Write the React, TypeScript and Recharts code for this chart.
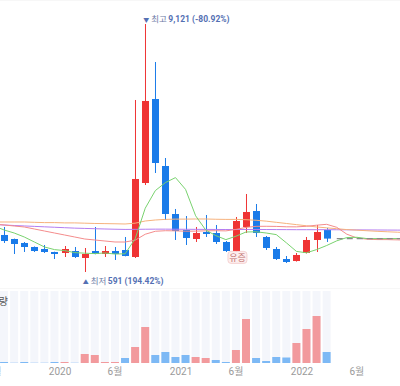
import React from 'react';
import { ComposedChart, Bar, Line, XAxis, YAxis, CartesianGrid, ReferenceDot, Cell } from 'recharts';

// Monthly categories (first and last are partly outside the visible window)
const months = [
  '2019-06', '2019-07', '2019-08', '2019-09', '2019-10', '2019-11', '2019-12',
  '2020-01', '2020-02', '2020-03', '2020-04', '2020-05', '2020-06', '2020-07', '2020-08', '2020-09', '2020-10', '2020-11', '2020-12',
  '2021-01', '2021-02', '2021-03', '2021-04', '2021-05', '2021-06', '2021-07', '2021-08', '2021-09', '2021-10', '2021-11', '2021-12',
  '2022-01', '2022-02', '2022-03', '2022-04', '2022-05', '2022-06', '2022-07', '2022-08', '2022-09', '2022-10', '2022-11',
];

const N8 = [null, null, null, null, null, null, null, null];

const opens: (number | null)[] = [null,
  1864, 1726, 1589, 1451, 1382, 1279, 1245, 1313, 1073, 1313, 1210, 1313, 1348, 1107, 3652, 6541, 4237,
  2586, 2036, 1726, 1967, 1932, 1623, 1313, 2139, 2689, 1795, 1382, 1038, 969, 1245, 1692, 2036, ...N8];
const highs: (number | null)[] = [null,
  2139, 1740, 1623, 1470, 1520, 1290, 1485, 1451, 1417, 2139, 1485, 1451, 1795, 6507, 9121, 7814, 4512,
  2758, 2517, 2139, 2552, 2208, 1657, 2483, 3274, 2930, 1829, 1451, 1141, 1245, 1795, 2208, 2104, ...N8];
const lows: (number | null)[] = [null,
  1589, 1210, 1279, 1279, 1245, 1038, 1107, 1073, 591, 1200, 1107, 1004, 1130, 1073, 3583, 3996, 2380,
  1692, 1520, 1623, 1795, 1554, 1279, 1300, 1932, 1795, 1348, 1004, 901, 950, 1230, 1279, 1623, ...N8];
const closes: (number | null)[] = [null,
  1657, 1554, 1451, 1313, 1279, 1210, 1382, 1107, 1210, 1210, 1313, 1210, 1141, 3790, 6473, 4340, 2586,
  2001, 1760, 1932, 1898, 1623, 1313, 2345, 2655, 1932, 1417, 1038, 935, 1176, 1692, 1967, 1740, ...N8];

// Volume (thousand shares) and its colour direction
const volumes = [30,
  100, 30, 100, 30, 30, 100, 100, 30, 900, 800, 100, 100, 500, 1600, 3600, 800, 1100,
  600, 800, 600, 500, 300, 100, 1300, 4400, 500, 200, 600, 550, 2000, 3400, 4700, 1100,
  0, 0, 0, 0, 0, 0, 0, 0];
const volumeUp = [false,
  false, false, false, false, false, false, true, false, true, true, true, true, false, true, true, false, false,
  false, false, true, true, false, false, true, true, false, false, false, false, true, true, true, false,
  false, false, false, false, false, false, false, false];

// Moving averages
const ma5 = [2173,
  2036, 1932, 1795, 1623, 1451, 1361, 1327, 1258, 1238, 1224, 1244, 1210, 1217, 1733, 2785, 3391, 3666,
  3838, 3432, 2524, 2035, 1843, 1705, 1822, 1967, 1974, 1932, 1877, 1595, 1300, 1252, 1362, 1502,
  1663, 1776, 1785, 1740, 1740, 1740, 1740, 1740];
const ma20 = [2242,
  2208, 2173, 2139, 2070, 2001, 1932, 1864, 1795, 1726, 1692, 1657, 1623, 1622, 1686, 1890, 1992, 2011,
  2006, 1994, 1996, 2008, 2011, 2005, 2056, 2125, 2161, 2163, 2159, 2146, 2144, 2163, 2201, 2231,
  2128, 1892, 1762, 1719, 1706, 1705, 1696, 1688];
const ma60 = [2311,
  2311, 2311, 2311, 2300, 2290, 2290, 2280, 2280, 2270, 2260, 2255, 2250, 2242, 2270, 2345, 2380, 2400,
  2410, 2410, 2414, 2414, 2405, 2400, 2400, 2390, 2370, 2340, 2300, 2260, 2220, 2180, 2140, 2110,
  2080, 2050, 2030, 2010, 1990, 1975, 1960, 1945];
const ma120 = [2225,
  2208, 2190, 2175, 2160, 2145, 2130, 2115, 2100, 2090, 2080, 2070, 2062, 2055, 2058, 2062, 2065, 2065,
  2062, 2060, 2058, 2056, 2054, 2052, 2052, 2054, 2054, 2052, 2050, 2048, 2046, 2046, 2046, 2046,
  2044, 2042, 2040, 2038, 2036, 2034, 2032, 2030];
const currentLine = [null,
  null, null, null, null, null, null, null, null, null, null, null, null, null, null, null, null, null,
  null, null, null, null, null, null, null, null, null, null, null, null, null, null, null, null,
  1740, 1740, 1740, 1740, 1740, 1740, 1740, 1740];

const xTickLabels: Record<string, string> = {
  '2019-06': '6월', '2020-01': '2020', '2020-06': '6월', '2021-01': '2021',
  '2021-06': '6월', '2022-01': '2022', '2022-06': '6월',
};
const priceGridLevels = [1038, 2070, 3102, 4134, 5166, 6197, 7229, 8261, 9293];
const priceDomain = [6.3, 9946.5];
const volumeDomain = [0, 7200];

const highMark = { month: '2020-09', price: 9121, title: '최고', value: '9,121', change: '(-80.92%)' };
const lowMark = { month: '2020-03', price: 591, title: '최저', value: '591', change: '(194.42%)' };
const eventMark = { month: '2021-06', price: 1300, text: '유증' };

const rows = months.map((m, i) => ({
  month: m,
  open: opens[i], high: highs[i], low: lows[i], close: closes[i],
  range: opens[i] == null ? null : [lows[i], highs[i]],
  vol: volumes[i], volUp: volumeUp[i],
  ma5: ma5[i], ma20: ma20[i], ma60: ma60[i], ma120: ma120[i], cur: currentLine[i],
}));

const RED = '#ef3434';
const BLUE = '#1a7be9';
const SLOT = 10.08;
const W = SLOT * months.length;
const LEFT = 4.5 - 1.5 * SLOT;
const FONT = 'Roboto, "Noto Sans CJK KR", "DejaVu Sans", sans-serif';

function Candle(props: any) {
  const { x, y, width, height, payload } = props;
  if (!payload || payload.open == null) return null;
  const { open, close, high, low } = payload;
  const top = Math.min(y, y + height);
  const h = Math.abs(height);
  const k = high === low ? 0 : h / (high - low);
  const py = (v: number) => top + (high - v) * k;
  const color = close >= open ? RED : BLUE;
  const cx = x + width / 2;
  const bx = Math.round(cx - 3.5);
  const wx = bx + 3.5;
  const bTop = py(Math.max(open, close));
  const bBot = py(Math.min(open, close));
  return (
    <g>
      <line x1={wx} x2={wx} y1={top} y2={top + h} stroke={color} strokeWidth={1} />
      <rect x={bx} y={bTop} width={7} height={Math.max(1, bBot - bTop)} fill={color} />
    </g>
  );
}

function HighLabel(props: any) {
  const { cx, cy } = props;
  return (
    <text x={cx - 2} y={cy - 2.5} fontSize={8.5} fill="#5470b3" fontFamily={FONT}>
      <tspan fontSize={6}>▼</tspan>
      <tspan dx={2} fill="#6c7ba6">{highMark.title}</tspan>
      <tspan dx={1.5} fontWeight="bold">{highMark.value} {highMark.change}</tspan>
    </text>
  );
}

function LowLabel(props: any) {
  const { cx, cy } = props;
  return (
    <text x={cx - 2} y={cy + 12} fontSize={8.5} fill="#5470b3" fontFamily={FONT}>
      <tspan fontSize={6}>▲</tspan>
      <tspan dx={2} fill="#6c7ba6">{lowMark.title}</tspan>
      <tspan dx={1.5} fontWeight="bold">{lowMark.value} {lowMark.change}</tspan>
    </text>
  );
}

function EventBadge(props: any) {
  const { cx, cy } = props;
  return (
    <g>
      <rect x={cx - 8} y={cy} width={19} height={12} rx={3} fill="#fdeeee" stroke="#f3caca" strokeWidth={0.8} />
      <text x={cx + 1.5} y={cy + 9.5} fontSize={9} textAnchor="middle" fill="#c0706e" fontFamily={FONT}>{eventMark.text}</text>
    </g>
  );
}

function MonthTick(props: any) {
  const { x, y, payload } = props;
  const label = xTickLabels[payload.value] || '';
  const isYear = /^\d{4}$/.test(label);
  return (
    <text x={x + (isYear ? -4.5 : 0)} y={y} dy="0.71em" textAnchor="middle" fontSize={10} fill="#9a9a9a" fontFamily={FONT}>
      {label}
    </text>
  );
}

export default function App() {
  return (
    <div style={{ position: 'absolute', left: 0, top: 0, width: 400, height: 386, overflow: 'hidden', background: '#fff', fontFamily: FONT, pointerEvents: 'none' }}>
      <div style={{ position: 'absolute', left: LEFT, top: 0 }}>
        <ComposedChart width={W} height={289} data={rows} margin={{ top: 0, right: 0, bottom: 0, left: 0 }}>
          <CartesianGrid vertical={false} stroke="#eeeeee" />
          <XAxis dataKey="month" hide />
          <YAxis orientation="right" width={0} type="number" domain={priceDomain} ticks={priceGridLevels} allowDataOverflow tick={false} axisLine={false} tickLine={false} />
          <Bar dataKey="range" barSize={7} shape={Candle} isAnimationActive={false} />
          <Line dataKey="ma120" stroke="#b47cf0" strokeWidth={1} dot={false} activeDot={false} isAnimationActive={false} />
          <Line dataKey="ma60" stroke="#f6b27c" strokeWidth={1} dot={false} activeDot={false} isAnimationActive={false} />
          <Line dataKey="ma20" stroke="#f48c8c" strokeWidth={1} dot={false} activeDot={false} isAnimationActive={false} />
          <Line dataKey="ma5" stroke="#78d26e" strokeWidth={1} dot={false} activeDot={false} isAnimationActive={false} />
          <Line dataKey="cur" stroke="#8a8a8a" strokeWidth={1.2} strokeDasharray="6 4" dot={false} activeDot={false} isAnimationActive={false} />
          <ReferenceDot x={highMark.month} y={highMark.price} r={0} shape={HighLabel} />
          <ReferenceDot x={lowMark.month} y={lowMark.price} r={0} shape={LowLabel} />
          <ReferenceDot x={eventMark.month} y={eventMark.price} r={0} shape={EventBadge} />
        </ComposedChart>
        <ComposedChart width={W} height={97} data={rows} margin={{ top: 2, right: 0, bottom: 0, left: 0 }}>
          <XAxis dataKey="month" interval={0} ticks={Object.keys(xTickLabels)} tick={MonthTick}
            axisLine={false} tickLine={false} tickSize={0} tickMargin={5} height={23} />
          <YAxis hide type="number" domain={volumeDomain} allowDataOverflow />
          <Bar dataKey="vol" barSize={8} background={{ fill: '#f4f6fb' }} activeBar={false} isAnimationActive={false}>
            {rows.map((r, i) => (
              <Cell key={i} fill={r.volUp ? '#f29a9d' : '#7db9f5'} />
            ))}
          </Bar>
        </ComposedChart>
      </div>
      <div style={{ position: 'absolute', left: -52, top: 296, width: 60, textAlign: 'right', fontSize: 10, lineHeight: '12px', color: '#555' }}>거래량</div>
    </div>
  );
}
